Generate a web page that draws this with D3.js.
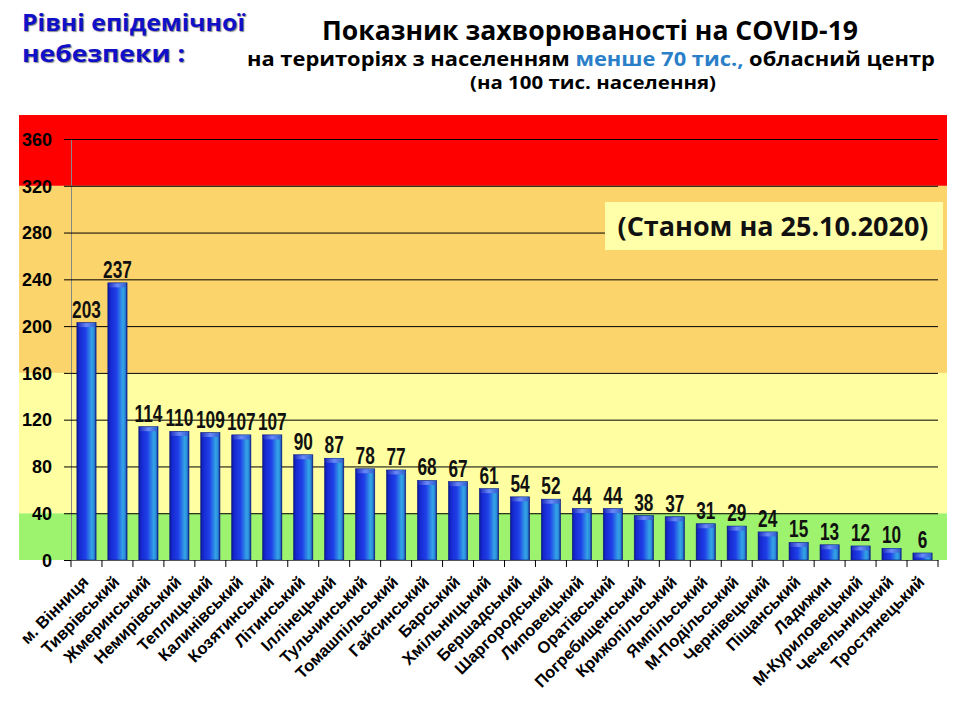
<!DOCTYPE html>
<html><head><meta charset="utf-8">
<script src="https://cdn.jsdelivr.net/npm/d3@7"></script>
<style>
body{margin:0;background:#fff;}
svg{display:block;}
</style></head>
<body><svg id="c" width="960" height="720"></svg>
<script>
const categories = ["м. Вінниця","Тиврівський","Жмеринський","Немирівський","Теплицький","Калинівський","Козятинський","Літинський","Іллінецький","Тульчинський","Томашпільський","Гайсинський","Барський","Хмільницький","Бершадський","Шаргородський","Липовецький","Оратівський","Погребищенський","Крижопільський","Ямпільський","М-Подільський","Чернівецький","Піщанський","Ладижин","М-Куриловецький","Чечельницький","Тростянецький"];
const values = [203,237,114,110,109,107,107,90,87,78,77,68,67,61,54,52,44,44,38,37,31,29,24,15,13,12,10,6];
const yTicks = [0,40,80,120,160,200,240,280,320,360];
const bands = [
  {from:0,to:40,color:"#9df26e"},
  {from:40,to:160,color:"#ffffa2"},
  {from:160,to:320,color:"#fbd46c"},
  {from:320,to:380.5,color:"#fe0000"}
];

const svg = d3.select("#c");
const L=71, R=938, T=139, B=560;
const x = d3.scaleBand().domain(categories).range([L,R]).paddingInner(0.38).paddingOuter(0.19);
const y = d3.scaleLinear().domain([0,360]).range([B,T]);
const sans = "'Liberation Sans',Arial,sans-serif";
const tf = "'Open Sans',sans-serif";

const defs = svg.append("defs");
const g = defs.append("linearGradient").attr("id","bar").attr("x1","0").attr("x2","1").attr("y1","0").attr("y2","0");
[[0,"#0a1890"],[0.12,"#1628d0"],[0.45,"#1f40e8"],[0.78,"#33a4e6"],[0.9,"#2a8ad8"],[1,"#0c2090"]].forEach(s=>g.append("stop").attr("offset",s[0]).attr("stop-color",s[1]));
const gc = defs.append("linearGradient").attr("id","cap").attr("x1","0").attr("x2","1").attr("y1","0").attr("y2","0");
[[0,"#2030c0"],[0.5,"#6a8af8"],[1,"#3060d0"]].forEach(s=>gc.append("stop").attr("offset",s[0]).attr("stop-color",s[1]));

// bands
svg.append("g").selectAll("rect").data(bands).join("rect")
  .attr("x",19).attr("width",928)
  .attr("y",d=>y(d.to)).attr("height",d=>y(d.from)-y(d.to))
  .attr("fill",d=>d.color);

// y axis
const ya = svg.append("g").attr("transform",`translate(${L},0)`)
  .call(d3.axisLeft(y).tickValues(yTicks).tickSize(7).tickSizeOuter(0).tickPadding(12));
ya.select(".domain").attr("stroke","#888").attr("stroke-width",1);
ya.selectAll(".tick line").attr("stroke","#000");
ya.selectAll(".tick text").attr("font-family",sans).attr("font-weight","bold").attr("font-size",18).attr("fill","#000").attr("dy","0.35em").attr("y",0);
svg.append("g").selectAll("line").data(yTicks.filter(v=>v>0)).join("line")
  .attr("x1",L).attr("x2",R).attr("y1",d=>y(d)+0.5).attr("y2",d=>y(d)+0.5)
  .attr("stroke","#000").attr("stroke-width",1);

// box
svg.append("rect").attr("x",605).attr("y",202).attr("width",338).attr("height",48).attr("fill","#ffffaa");
svg.append("text").attr("x",773).attr("y",236).attr("text-anchor","middle")
  .attr("font-family",tf).attr("font-weight","bold").attr("font-size",26).attr("fill","#111")
  .attr("textLength",311).attr("lengthAdjust","spacingAndGlyphs")
  .text("(Станом на 25.10.2020)");

// bars
const bg = svg.append("g").selectAll("g").data(categories).join("g");
bg.append("rect").attr("x",d=>x(d)).attr("width",x.bandwidth())
  .attr("y",(d,i)=>y(values[i])).attr("height",(d,i)=>B-y(values[i]))
  .attr("fill","url(#bar)").attr("stroke","#0a1a80").attr("stroke-width",0.6);
bg.append("rect").attr("x",d=>x(d)+1).attr("width",x.bandwidth()-2)
  .attr("y",(d,i)=>y(values[i])+0.5).attr("height",4)
  .attr("fill","url(#cap)");
bg.append("text")
  .attr("transform",(d,i)=>`translate(${x(d)+x.bandwidth()/2},${y(values[i])-5}) scale(0.75,1)`)
  .attr("text-anchor","middle").attr("font-family",sans)
  .attr("font-weight","bold").attr("font-size",23).attr("fill","#111")
  .text((d,i)=>values[i]);

// x axis
const xa = svg.append("g").attr("transform",`translate(0,${B})`)
  .call(d3.axisBottom(x).tickSize(0).tickSizeOuter(0).tickFormat(""));
xa.select(".domain").attr("stroke","#555");
const x0 = x(categories[0]) - x.step()*x.paddingOuter();
svg.append("g").selectAll("line").data(d3.range(categories.length+1)).join("line")
  .attr("x1",i=>x0+i*x.step()).attr("x2",i=>x0+i*x.step())
  .attr("y1",B).attr("y2",B+7).attr("stroke","#000");
svg.append("g").selectAll("text").data(categories).join("text")
  .attr("transform",d=>`translate(${x(d)+x.bandwidth()/2+3},${B+23}) rotate(-45)`)
  .attr("text-anchor","end").attr("font-family",sans)
  .attr("font-weight","bold").attr("font-size",16.5).attr("fill","#000")
  .text(d=>d);

// titles
svg.append("text").attr("x",590).attr("y",40).attr("text-anchor","middle")
  .attr("font-family",tf).attr("font-weight","bold").attr("font-size",26).attr("fill","#000")
  .attr("textLength",536).attr("lengthAdjust","spacingAndGlyphs")
  .text("Показник захворюваності на COVID-19");
const t2 = svg.append("text").attr("x",591).attr("y",66).attr("text-anchor","middle")
  .attr("font-family",tf).attr("font-weight","bold").attr("font-size",19).attr("fill","#000")
  .attr("textLength",688).attr("lengthAdjust","spacingAndGlyphs");
t2.append("tspan").text("на територіях з населенням ");
t2.append("tspan").attr("fill","#2a7fc8").text("менше 70 тис.,");
t2.append("tspan").text(" обласний центр");
svg.append("text").attr("x",593).attr("y",89).attr("text-anchor","middle")
  .attr("font-family",tf).attr("font-weight","bold").attr("font-size",17).attr("fill","#000")
  .attr("textLength",246).attr("lengthAdjust","spacingAndGlyphs")
  .text("(на 100  тис. населення)");
const lt = svg.append("g").attr("font-family",tf).attr("font-weight","bold").attr("font-size",22.5).attr("fill","#1010c8")
  .style("text-shadow","1px 1px 1px #888");
lt.append("text").attr("x",22).attr("y",31).attr("textLength",223).attr("lengthAdjust","spacingAndGlyphs").text("Рівні епідемічної");
lt.append("text").attr("x",22).attr("y",62).attr("textLength",163).attr("lengthAdjust","spacingAndGlyphs").text("небезпеки :");
</script></body></html>
